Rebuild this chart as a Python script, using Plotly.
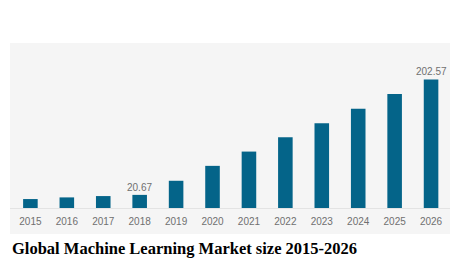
import plotly.graph_objects as go

years = ["2015", "2016", "2017", "2018", "2019", "2020", "2021", "2022", "2023", "2024", "2025", "2026"]
market_size = [14.1, 16.7, 18.8, 20.67, 42.9, 66.4, 88.9, 111.5, 133.5, 156.4, 179.5, 202.57]
labeled_years = ["2018", "2026"]
title_text = "Global Machine Learning Market size 2015-2026"

W, H = 457, 266
ml, mr, mt, mb = 10, 7, 43, 58
ph = H - mt - mb

fig = go.Figure(go.Bar(
    x=years, y=market_size,
    marker=dict(color="#046489", line=dict(width=0)),
))

annotations = []
for yr in labeled_years:
    i = years.index(yr)
    v = market_size[i]
    annotations.append(dict(x=i, y=v, xref="x", yref="y", text=f"{v:.2f}",
                            showarrow=False, yanchor="bottom", yshift=0,
                            font=dict(family="Liberation Sans", size=10, color="#707070")))
annotations.append(dict(text=title_text, xref="paper", yref="paper",
                        x=0, xanchor="left", y=-(40.0 / ph), yanchor="middle",
                        showarrow=False,
                        font=dict(family="Liberation Serif", size=16.5, color="#000000",
                                  weight="bold")))

fig.update_layout(
    width=W, height=H,
    margin=dict(l=ml, r=mr, t=mt, b=mb, autoexpand=False),
    paper_bgcolor="white", plot_bgcolor="rgba(0,0,0,0)",
    bargap=0.6, showlegend=False,
    xaxis=dict(type="category", range=[-0.56, 11.52], showgrid=False, automargin=False,
               showline=True, linecolor="#e3e3e3", linewidth=1,
               tickfont=dict(family="Liberation Sans", size=10, color="#707070"),
               ticks="", ticklabelstandoff=4, fixedrange=True),
    yaxis=dict(range=[0, 260], visible=False, fixedrange=True, automargin=False),
    shapes=[dict(type="rect", xref="paper", yref="paper", x0=0, x1=1,
                 y0=-(26.0 / ph), y1=1, fillcolor="#f5f5f5", line=dict(width=0),
                 layer="below")],
    annotations=annotations,
)

fig.write_html("out.html", config={"displayModeBar": False},
               post_script="document.body.style.margin='0';")
